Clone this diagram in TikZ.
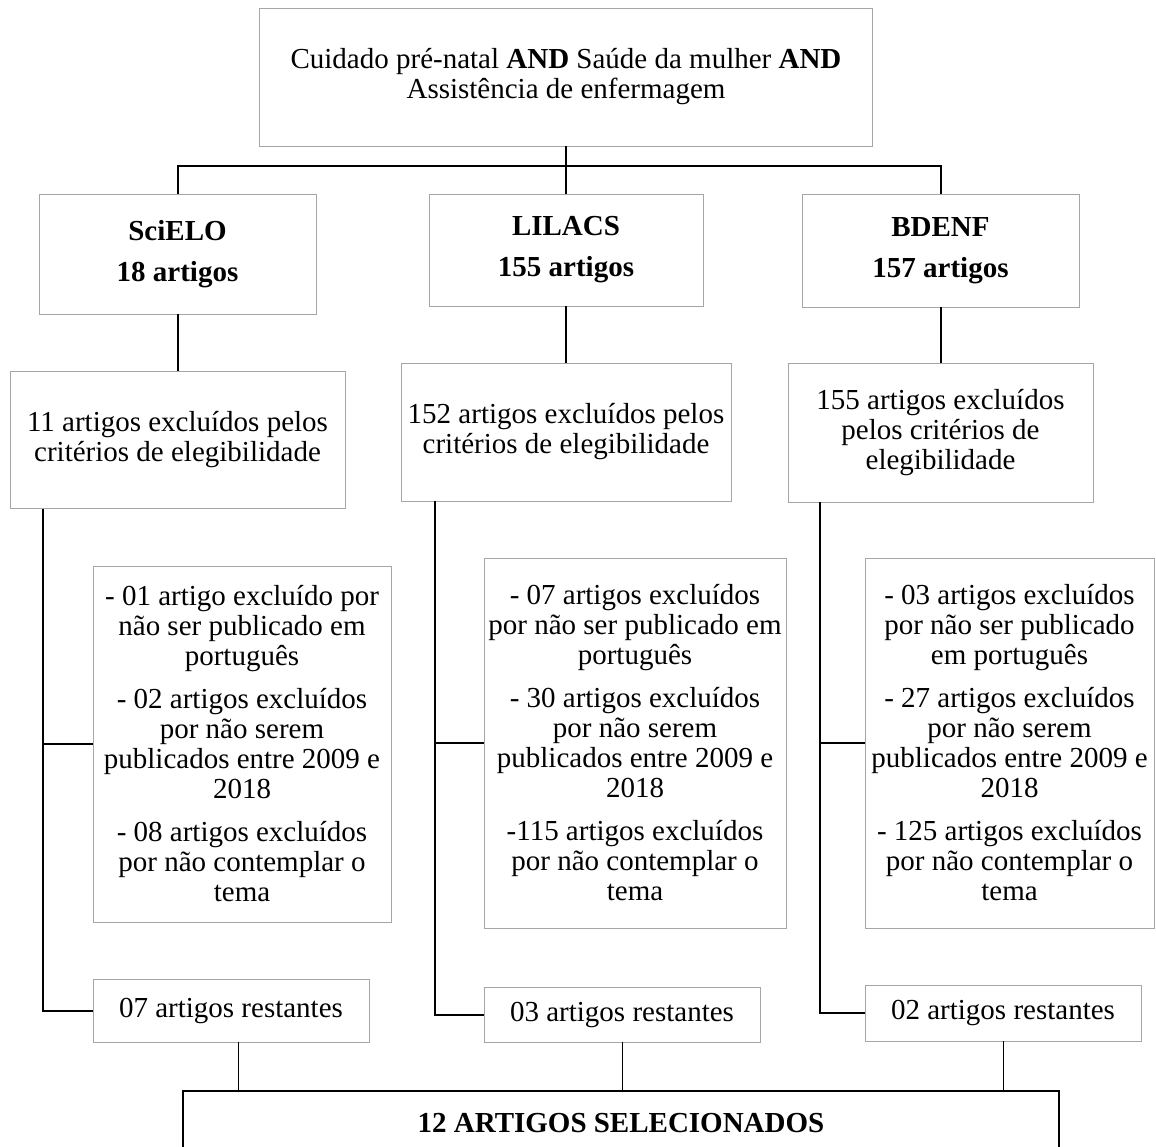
\documentclass[tikz,border=0pt]{standalone}
\usepackage{fontspec}
\setmainfont{Liberation Serif}
\newcommand{\tamanho}{\fontsize{29}{30}\selectfont}

\begin{document}
\begin{tikzpicture}[x=1pt,y=-1pt,
    caixa/.style={draw=gray!70,line width=0.9pt,align=center,inner sep=0pt,font=\tamanho},
    negrito/.style={caixa,font=\tamanho\bfseries},
    liga/.style={line width=2pt},
    fina/.style={line width=1pt}]
    \useasboundingbox (0,0) rectangle (1156,1146);
    % busca
    \node[caixa,minimum width=613,minimum height=138] (busca) at (566,77)
        {Cuidado pré-natal \textbf{AND} Saúde da mulher \textbf{AND}\\Assistência de enfermagem};
    % bases
    \node[negrito,minimum width=277,minimum height=120] (scielo) at (177.5,254) {SciELO\\[11pt]18 artigos};
    \node[negrito,minimum width=274,minimum height=112] (lilacs) at (566,250) {LILACS\\[11pt]155 artigos};
    \node[negrito,minimum width=277,minimum height=113] (bdenf) at (940.5,250.5) {BDENF\\[11pt]157 artigos};
    % exclusoes
    \node[caixa,minimum width=335,minimum height=137] (exc1) at (177.5,440)
        {11 artigos excluídos pelos\\critérios de elegibilidade};
    \node[caixa,minimum width=330,minimum height=138] (exc2) at (566,432)
        {152 artigos excluídos pelos\\critérios de elegibilidade};
    \node[caixa,minimum width=305,minimum height=139] (exc3) at (940.5,432.5)
        {155 artigos excluídos\\pelos critérios de\\elegibilidade};
    % motivos
    \node[caixa,minimum width=298,minimum height=356] (mot1) at (242,744)
        {- 01 artigo excluído por\\não ser publicado em\\português\\[13pt]
         - 02 artigos excluídos\\por não serem\\publicados entre 2009 e\\2018\\[13pt]
         - 08 artigos excluídos\\por não contemplar o\\tema};
    \node[caixa,minimum width=302,minimum height=370] (mot2) at (635,743)
        {- 07 artigos excluídos\\por não ser publicado em\\português\\[13pt]
         - 30 artigos excluídos\\por não serem\\publicados entre 2009 e\\2018\\[13pt]
         -115 artigos excluídos\\por não contemplar o\\tema};
    \node[caixa,minimum width=289,minimum height=370] (mot3) at (1009.5,743)
        {- 03 artigos excluídos\\por não ser publicado\\em português\\[13pt]
         - 27 artigos excluídos\\por não serem\\publicados entre 2009 e\\2018\\[13pt]
         - 125 artigos excluídos\\por não contemplar o\\tema};
    % restantes
    \node[caixa,minimum width=276,minimum height=63] (res1) at (231,1010.5) {07 artigos restantes};
    \node[caixa,minimum width=276,minimum height=55] (res2) at (622,1014.5) {03 artigos restantes};
    \node[caixa,minimum width=276,minimum height=56] (res3) at (1003,1013) {02 artigos restantes};
    % final
    \node[negrito,draw=black,line width=1.3pt,minimum width=876,minimum height=64] (final) at (621,1123)
        {12 ARTIGOS SELECIONADOS};

    % ligacoes
    \coordinate (ramo) at (566,166);
    \draw[liga] (busca) -- (ramo);
    \draw[liga] (scielo.north) |- (ramo) -| (bdenf.north);
    \draw[liga] (ramo) -- (lilacs.north);
    \draw[liga] (scielo) -- (exc1);
    \draw[liga] (lilacs) -- (exc2);
    \draw[liga] (bdenf) -- (exc3);
    \foreach \i/\d in {1/33,2/34,3/32}{
        \coordinate (tronco\i) at ([xshift=\d pt]exc\i.south west);
        \draw[liga] (tronco\i) |- (res\i.west);
        \draw[liga] (tronco\i |- mot\i.west) -- (mot\i.west);
    }
    \draw[fina] ([xshift=7pt]res1.south) -- ([xshift=7pt]res1.south |- final.north);
    \draw[fina] (res2.south) -- (res2.south |- final.north);
    \draw[fina] (res3.south) -- (res3.south |- final.north);
\end{tikzpicture}
\end{document}
